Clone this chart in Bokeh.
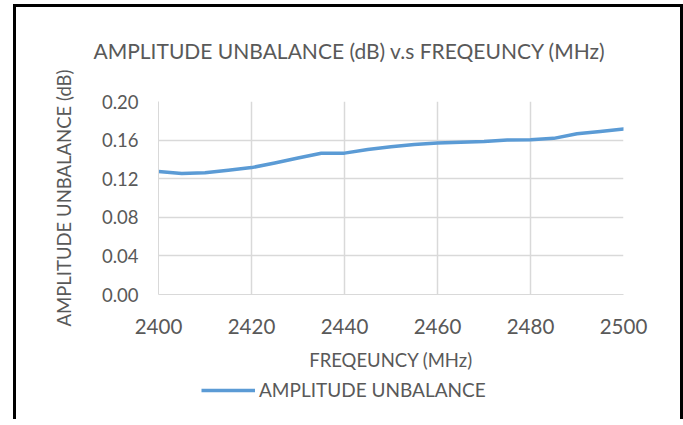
from bokeh.plotting import figure
from bokeh.layouts import column
from bokeh.models import Legend, LegendItem, FixedTicker, NumeralTickFormatter, Range1d, Title
from bokeh.embed import file_html
from bokeh.resources import INLINE

freq = [2400, 2405, 2410, 2415, 2420, 2425, 2430, 2435, 2440, 2445, 2450,
        2455, 2460, 2465, 2470, 2475, 2480, 2485, 2490, 2495, 2500]
unbalance = [0.1275, 0.1255, 0.1262, 0.1287, 0.1315, 0.1363, 0.1415, 0.1463, 0.1465, 0.1503, 0.1530,
             0.1555, 0.1569, 0.1578, 0.1586, 0.1602, 0.1604, 0.1618, 0.1665, 0.1690, 0.1714]
x_ticks = [2400, 2420, 2440, 2460, 2480, 2500]
y_ticks = [0.00, 0.04, 0.08, 0.12, 0.16, 0.20]

title_text = "AMPLITUDE UNBALANCE (dB) v.s FREQEUNCY (MHz)"
x_label = "FREQEUNCY (MHz)"
y_label = "AMPLITUDE UNBALANCE (dB)"
series_name = "AMPLITUDE UNBALANCE"

FONT = "Lato"
TXT = "#595959"
GRID = "#d9d9d9"
LINE = "#5b9bd5"

W = 670
p = figure(width=W, height=374, frame_width=465, frame_height=193,
           output_backend="svg", toolbar_location=None,
           x_range=Range1d(2400, 2500), y_range=Range1d(0, 0.20),
           min_border_left=145, min_border_right=60, min_border_top=101, min_border_bottom=80)
p.outline_line_color = None
p.background_fill_color = "white"
p.border_fill_color = None

# real title, with a white spacer title between it and the frame
p.title.text = title_text
p.title.text_font = FONT
p.title.text_font_size = "21px"
p.title.text_font_style = "normal"
p.title.text_color = TXT
p.title.align = "left"
p.title.offset = -65
p.title.standoff = 0
p.add_layout(Title(text=".", text_font_size="10px", text_color="white", standoff=29), "above")

for ax in (p.xaxis[0], p.yaxis[0]):
    ax.axis_line_color = GRID
    ax.axis_line_width = 1
    ax.major_tick_line_color = None
    ax.minor_tick_line_color = None
    ax.major_tick_out = 0
    ax.major_tick_in = 0
    ax.major_label_text_font = FONT
    ax.major_label_text_color = TXT
    ax.axis_label_text_font = FONT
    ax.axis_label_text_color = TXT
    ax.axis_label_text_font_style = "normal"
p.xaxis.ticker = FixedTicker(ticks=x_ticks)
p.yaxis.ticker = FixedTicker(ticks=y_ticks)
p.yaxis.formatter = NumeralTickFormatter(format="0.00")
p.xaxis.major_label_text_font_size = "20.5px"
p.yaxis.major_label_text_font_size = "18.5px"
p.xaxis.major_label_standoff = 24
p.yaxis.major_label_standoff = 20
p.xaxis.axis_label = x_label
p.yaxis.axis_label = y_label
p.xaxis.axis_label_text_font_size = "18.5px"
p.yaxis.axis_label_text_font_size = "18.5px"
p.xaxis.axis_label_standoff = 12
p.yaxis.axis_label_standoff = 24

p.xgrid.ticker = FixedTicker(ticks=x_ticks)
p.ygrid.ticker = FixedTicker(ticks=y_ticks)
p.xgrid.grid_line_color = GRID
p.ygrid.grid_line_color = GRID
p.xgrid.grid_line_width = 1.5
p.ygrid.grid_line_width = 1.5

p.line(freq, unbalance, line_color=LINE, line_width=3.5, line_join="round", line_cap="round")

# legend strip below the chart (its frame is aligned with the chart frame)
p2 = figure(width=W, height=45, output_backend="svg", toolbar_location=None,
            x_axis_type=None, y_axis_type=None,
            x_range=Range1d(0, 1), y_range=Range1d(0, 1),
            min_border_left=0, min_border_right=0, min_border_top=0, min_border_bottom=0)
p2.outline_line_color = None
p2.background_fill_color = None
p2.border_fill_color = None
r2 = p2.line(freq, unbalance, line_color=LINE, line_width=3.5)
legend = Legend(items=[LegendItem(label=series_name, renderers=[r2])], location=(43, 18),
                glyph_width=54, glyph_height=20, label_height=20, label_standoff=4,
                padding=0, margin=0, spacing=0, border_line_color=None, background_fill_alpha=0,
                label_text_font=FONT, label_text_font_size="19px", label_text_color=TXT)
p2.add_layout(legend, "center")

layout = column(p, p2, margin=(0, 0, 0, 13), spacing=0,
                styles={"box-shadow": "inset 0 4px 0 0 #ffffff, inset 3px 0 0 0 #000000, "
                                      "inset -3px 0 0 0 #000000, inset 0 7px 0 0 #000000"})

open("out.html", "w").write(file_html(layout, INLINE))
